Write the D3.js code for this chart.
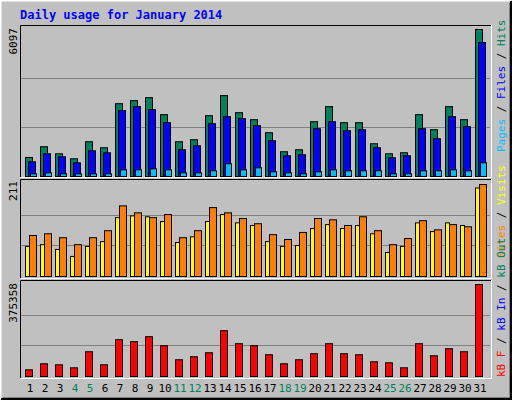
<!DOCTYPE html>
<html><head><meta charset="utf-8">
<script src="https://cdn.jsdelivr.net/npm/d3@7"></script>
<style>body{margin:0;background:#fff}svg{display:block}text{font-family:"DejaVu Sans Mono",monospace}</style>
</head><body><svg id="c" width="512" height="400"></svg>
<script>
const days = d3.range(1,32);
const weekend = [4,5,11,12,18,19,25,26];
const hits = [790,1234,942,735,1441,1192,3021,3146,3271,2564,1441,1525,2523,3354,2647,2356,1816,1026,1109,2273,2897,2231,2231,1358,942,984,2564,1940,2897,2356,6097];
const files = [610,942,818,568,1067,984,2730,2897,2772,2231,1109,1275,2190,2481,2398,2107,1483,859,901,1982,2273,1899,1940,1192,776,859,1982,1566,2481,2065,5558];
const pages = [111,152,111,111,111,111,277,277,319,277,152,152,236,527,277,360,194,152,111,194,277,236,236,236,111,111,236,236,277,236,568];
const visits = [69,73,62,46,69,80,135,139,137,126,78,91,126,142,123,117,80,69,71,110,119,110,117,98,55,69,123,103,123,117,203];
const sites = [94,98,89,73,89,105,162,146,135,142,89,105,158,146,133,121,96,85,101,133,130,117,137,105,73,87,128,107,119,114,211];
const kbytes = [27300,51870,47775,35490,101010,47775,150150,141960,162435,125580,68250,80535,96915,187005,133770,125580,88725,51870,68250,92820,133770,92820,88725,60060,55965,35490,133770,84630,113295,101010,375358];
const maxHits = 6097, maxSites = 211, maxKB = 375358;

const svg = d3.select("#c");
svg.append("rect").attr("width",512).attr("height",400).attr("fill","#c0c0c0");
// outer bevel
svg.append("path").attr("d","M0.5,399.5V0.5H511.5").attr("stroke","#fff").attr("stroke-width",2).attr("fill","none");
svg.append("path").attr("d","M1,399H511V1").attr("stroke","#000").attr("stroke-width",2).attr("fill","none");
svg.append("path").attr("d","M2.5,397.5H509.5V2.5").attr("stroke","#808080").attr("fill","none");

svg.append("text").attr("x",20).attr("y",19).attr("fill","#0000ff").attr("font-weight","bold").attr("font-size",12).text("Daily usage for January 2014");

const x = d3.scaleLinear().domain([1,32]).range([25,490]);

function panel(y0,y1){
  svg.append("rect").attr("x",20).attr("y",y0).attr("width",471).attr("height",y1-y0).attr("fill","#c0c0c0");
  svg.append("path").attr("d",`M20.5,${y1}V${y0+0.5}H491`).attr("stroke","#000").attr("fill","none");
  svg.append("path").attr("d",`M20.5,${y1+0.5}H491.5V${y0}`).attr("stroke","#fff").attr("fill","none");
}
function grid(y,vals){ vals.forEach(v=>svg.append("line").attr("x1",21).attr("x2",490).attr("y1",Math.round(y(v))+0.5).attr("y2",Math.round(y(v))+0.5).attr("stroke","#808080")); }
function bars(data,y,off,w,color){
  svg.append("g").selectAll("rect").data(data).join("rect")
    .attr("x",(d,i)=>x(i+1)+off+0.5).attr("width",w-1)
    .attr("y",d=>y(d)+0.5).attr("height",d=>Math.max(0,y(0)-y(d)))
    .attr("fill",color).attr("stroke","#000");
}
function vlabel(txt,xx,yy,anchor){
  svg.append("text").attr("transform",`translate(${xx},${yy}) rotate(-90)`).attr("text-anchor",anchor).attr("font-size",11).attr("fill","#000").text(txt);
}
function rlabel(parts,yy){
  const t=svg.append("text").attr("transform",`translate(505,${yy}) rotate(-90)`).attr("font-size",11);
  parts.forEach(p=>t.append("tspan").attr("fill",p[1]).text(p[0]));
}

// top
panel(25,177);
const y1 = d3.scaleLinear().domain([0,maxHits]).range([176,29]);
grid(y1,[maxHits/3,maxHits*2/3]);
bars(hits,y1,0,8,"#00805c");
bars(files,y1,3,8,"#0000ff");
bars(pages,y1,5,7,"#00c0ff");
vlabel(String(maxHits),17,28,"end");
rlabel([["Pages","#00c0ff"],[" / ","#000"],["Files","#0000ff"],[" / ","#000"],["Hits","#00805c"]],152);

// middle
panel(179,278);
const y2 = d3.scaleLinear().domain([0,maxSites]).range([276,184]);
grid(y2,[maxSites/3,maxSites*2/3]);
bars(visits,y2,0,5,"#ffff00");
bars(sites,y2,4,8,"#ff8000");
vlabel(String(maxSites),17,181,"end");
rlabel([["Sites","#ff8000"],[" / ","#000"],["Visits","#ffff00"]],258);

// bottom
panel(280,378);
const y3 = d3.scaleLinear().domain([0,maxKB]).range([376,284]);
grid(y3,[maxKB/3,maxKB*2/3]);
bars(kbytes,y3,0,8,"#ff0000");
vlabel(String(maxKB),17,283,"end");
rlabel([["kB F","#ff0000"],[" / ","#000"],["kB In","#0000ff"],[" / ","#000"],["kB Out","#00805c"]],377);

// day labels
svg.append("g").selectAll("text").data(days).join("text")
  .attr("x",d=>x(d)+5).attr("y",392).attr("text-anchor","middle").attr("font-size",11)
  .attr("fill",d=>weekend.includes(d)?"#00805c":"#000").text(d=>d);
</script></body></html>
